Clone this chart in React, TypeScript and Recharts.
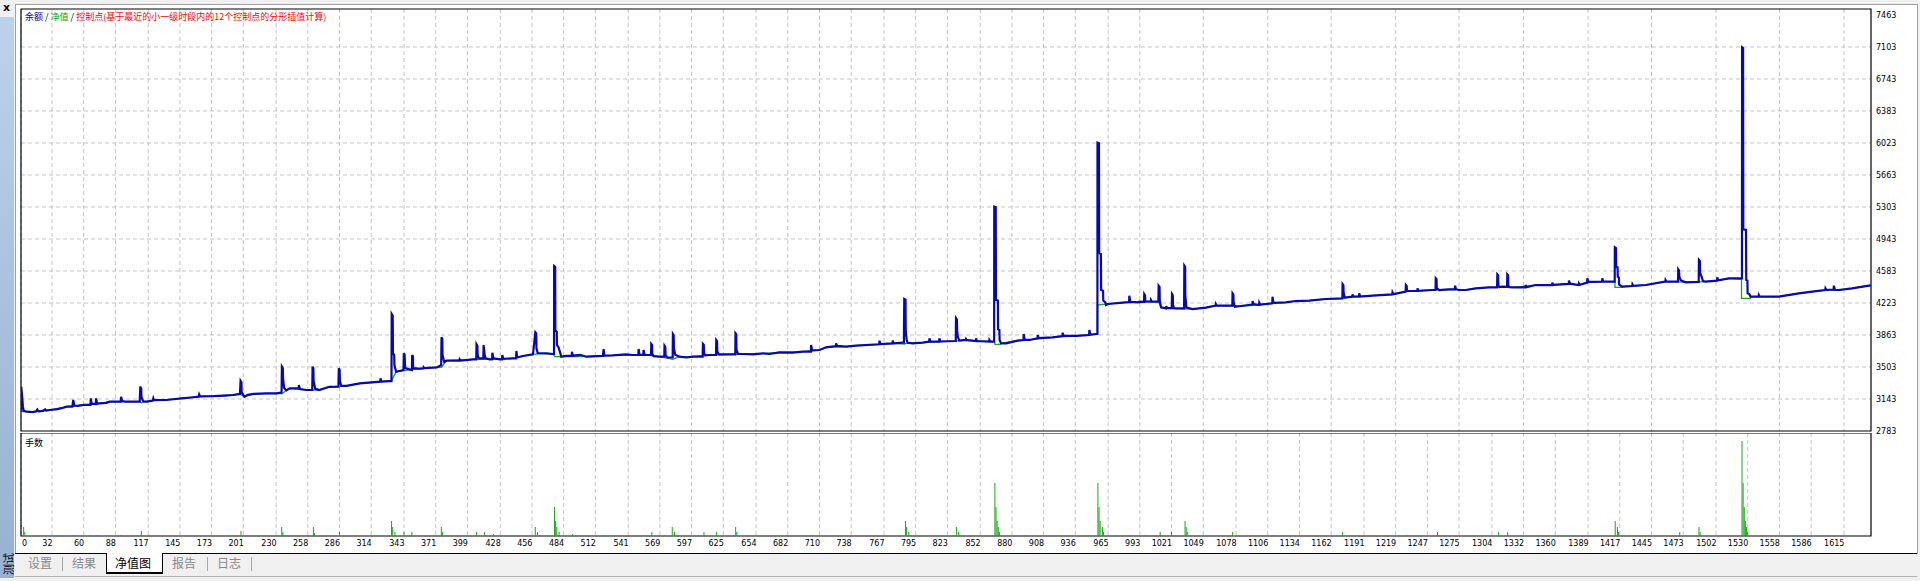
import React from 'react';
import { LineChart, Line, XAxis, YAxis, CartesianGrid, ReferenceArea, ComposedChart, Bar } from 'recharts';

// ---------- data ----------
const xTickLabels = ['0','32','60','88','117','145','173','201','230','258','286','314','343','371','399','428','456','484','512','541','569','597','625','654','682','710','738','767','795','823','852','880','908','936','965','993','1021','1049','1078','1106','1134','1162','1191','1219','1247','1275','1304','1332','1360','1389','1417','1445','1473','1502','1530','1558','1586','1615'];
const yTicks = [2783, 3143, 3503, 3863, 4223, 4583, 4943, 5303, 5663, 6023, 6383, 6743, 7103, 7463];

// balance (blue): [trade #, value]
const balance: number[][] = [
  [4.7,3000],[4.8,3282],[5.6,3180],[6.3,3060],[7,3010],[10,3000],[15,2995],[18,3005],[19,3025],[20,3005],[24,3010],[26,3025],[27,3012],[30,3019],[37,3030],[42,3045],[45,3057],[50,3057],[50.8,3132],[51.6,3070],[55,3065],[60,3076],[66,3076],[66.3,3150],[67,3090],[70.7,3085],[71,3150],[71.8,3090],[74,3094],[80,3100],[83,3113],[92.8,3113],[93,3169],[94,3120],[96.5,3113],[103,3113],[109.5,3113],[110,3282],[110.8,3260],[111,3169],[112,3132],[113,3113],[116,3113],[121,3125],[121.5,3150],[122,3130],[133,3132],[139,3140],[146.5,3150],[155,3160],[161.5,3169],[162,3195],[162.8,3172],[174.5,3175],[185,3182],[192,3188],[198,3200],[198.6,3345],[199.3,3330],[199.5,3220],[202,3169],[205,3190],[210,3200],[221,3207],[230,3207],[234.8,3215],[235.1,3507],[235.9,3490],[236.1,3375],[237,3270],[239,3240],[242,3263],[249.8,3263],[250.1,3300],[251,3255],[257,3244],[261.9,3244],[262.2,3507],[262.9,3490],[263.1,3350],[264.5,3260],[268,3244],[277,3280],[285,3282],[285.4,3488],[286.1,3470],[286.3,3350],[287.5,3290],[292,3290],[304,3319],[322,3338],[322.2,3375],[323,3340],[330,3345],[331.9,3345],[332.1,4099],[333,4080],[333.2,3657],[334.3,3640],[334.5,3525],[336,3450],[342.5,3469],[342.8,3657],[343.5,3640],[344,3490],[349.9,3469],[350.2,3638],[350.9,3620],[351,3490],[356,3485],[360,3488],[360.3,3500],[361,3490],[372,3499],[375.8,3525],[376.1,3837],[376.8,3820],[377,3638],[378.5,3560],[380.5,3574],[392,3574],[392.2,3589],[393,3576],[404,3589],[406.8,3589],[407,3758],[407.8,3740],[408,3640],[409,3600],
  [413,3600],[413.3,3750],[414.2,3640],[415,3600],[418.6,3589],[420.8,3589],[421,3664],[422,3600],[427.5,3589],[429.6,3589],[429.8,3638],[430.6,3595],[439.2,3600],[442,3600],[442.2,3683],[443,3610],[448.1,3627],[456.9,3645],[459,3893],[459.8,3880],[460,3713],[461,3660],[468.7,3657],[474.5,3649],[475.5,3649],[475.6,4639],[476.5,4630],[476.7,3912],[477.9,3900],[478.1,3750],[479.6,3720],[481.9,3619],[486.3,3627],[491.2,3627],[491.3,3675],[492,3630],[498.6,3640],[504,3619],[518.7,3627],[519.3,3705],[520,3630],[527.5,3634],[539.3,3645],[545.2,3638],[550,3638],[550.2,3705],[551,3640],[554.4,3640],[554.6,3694],[555.5,3640],[557,3638],[561.2,3638],[561.4,3762],[562.1,3750],[562.3,3650],[563.5,3625],[568.7,3619],[572.9,3619],[573.1,3743],[573.8,3730],[574,3640],[575.5,3610],[580.3,3610],[580.5,3874],[581.2,3860],[581.4,3720],[582.5,3640],[586.4,3619],[592.3,3610],[598.2,3619],[606.8,3619],[607,3762],[607.8,3750],[608,3660],[609,3635],[612.9,3638],[618.6,3638],[618.8,3807],[619.5,3795],[619.7,3680],[621,3645],[627.6,3645],[635.6,3645],[635.8,3882],[636.5,3870],[636.7,3700],[638,3650],[642.3,3649],[651.1,3645],[660,3657],[665.8,3649],[674.7,3668],[686.4,3664],[695.3,3675],[702.4,3675],[702.6,3750],[703.5,3690],[710,3694],[715.9,3724],[724.5,3739],[724.7,3769],[725.5,3740],[733.5,3732],[742.4,3743],[762.8,3758],[763,3799],[763.8,3760],[774.5,3769],[774.7,3799],[775.5,3770],[783.6,3777],[784.6,3777],[784.7,4024],[784.9,4268],[786,4260],[786.2,3900],[787,3807],[788,3775],[792.4,3769],[801.2,3777],[806.9,3788],[807.1,3825],[808,3790],[815.7,3788],[815.9,3825],[816.8,3790],[830.4,3795],[830.6,4054],[831.4,4040],[831.6,3912],[832.2,3844],[833.5,3800],[839.3,3807],[839.5,3818],[840.3,3805],[848.1,3795],[848.3,3825],[849,3795],
  [859.9,3788],[860.1,3807],[861,3788],[864.3,3788],[864.4,5307],[865.7,5300],[865.9,4257],[867.6,4250],[867.8,3927],[868.9,3920],[869.1,3807],[870.4,3769],[874.8,3769],[885.1,3799],[890.2,3807],[890.4,3874],[891.2,3810],[895.4,3807],[902.6,3825],[902.8,3863],[903.6,3828],[916,3837],[924.6,3852],[924.8,3889],[925.6,3852],[936.6,3852],[948.2,3863],[948.4,3919],[949.2,3865],[954.3,3874],[955.5,3874],[955.6,6027],[956.9,6020],[957.1,4782],[958.6,4775],[958.8,4369],[960.5,4360],[960.7,4250],[962.5,4230],[963.1,4200],[964.6,4212],[980.5,4230],[983.5,4232],[983.7,4305],[984.6,4235],[992.5,4230],[992.7,4238],[996.7,4235],[996.9,4324],[997.6,4310],[997.8,4240],[1002.6,4240],[1002.8,4257],[1003.6,4238],[1009.4,4238],[1009.6,4418],[1010.4,4405],[1010.6,4250],[1011.7,4174],[1016.1,4163],[1016.3,4189],[1017,4165],[1021.2,4165],[1021.4,4324],[1022.1,4310],[1022.3,4200],[1023.2,4165],[1024.9,4163],[1032.1,4163],[1032.3,4643],[1033,4630],[1033.2,4300],[1034.2,4170],[1039.6,4155],[1051.4,4170],[1060,4193],[1060.2,4212],[1061,4193],[1069,4193],[1074.7,4193],[1074.9,4332],[1075.6,4320],[1075.8,4230],[1077,4180],[1082.3,4189],[1092.4,4205],[1092.6,4245],[1093.4,4210],[1098.3,4200],[1098.5,4227],[1099.3,4205],[1110,4219],[1110.2,4294],[1111,4225],[1122,4230],[1130.8,4245],[1142.6,4249],[1157.3,4268],[1171.9,4275],[1172.1,4437],[1172.8,4425],[1173,4340],[1174,4285],[1180.7,4294],[1180.9,4320],[1181.7,4296],[1186.6,4294],[1186.8,4332],[1187.6,4296],[1198.5,4305],[1216,4320],[1216.2,4343],[1217,4322],[1227.8,4350],[1228,4425],[1228.7,4415],[1229,4360],[1238.1,4358],[1238.3,4388],[1239,4360],[1251.5,4369],[1254.2,4369],[1254.4,4500],[1255.1,4490],[1255.3,4390],[1257.4,4369],[1266.2,4377],[1271.3,4377],[1271.5,4418],[1272.3,4378],[1275,4369],
  [1280.9,4369],[1289.7,4388],[1301.5,4399],[1308.6,4399],[1308.8,4545],[1309.5,4535],[1309.7,4420],[1310.8,4402],[1313.2,4407],[1317.4,4405],[1317.6,4545],[1318.3,4535],[1318.5,4420],[1319.5,4400],[1323.5,4399],[1333.6,4399],[1333.8,4425],[1334.6,4400],[1342.7,4425],[1357.2,4425],[1357.4,4452],[1358.2,4428],[1371.9,4437],[1372.1,4474],[1373,4440],[1380.7,4425],[1380.9,4444],[1381.7,4428],[1388.1,4452],[1388.3,4500],[1389.2,4460],[1401.3,4463],[1401.5,4500],[1402.3,4465],[1410.4,4463],[1412.5,4463],[1412.6,4849],[1413.6,4840],[1413.8,4632],[1415,4625],[1415.2,4519],[1416.2,4510],[1416.4,4430],[1419.2,4407],[1428,4414],[1428.2,4433],[1429,4416],[1439.8,4425],[1457.2,4463],[1457.4,4482],[1458.2,4465],[1468.4,4463],[1468.6,4602],[1469.3,4590],[1469.6,4520],[1470.8,4480],[1475.1,4455],[1486.7,4460],[1486.9,4707],[1487.7,4695],[1487.9,4560],[1489,4527],[1490.5,4470],[1492.8,4463],[1503,4474],[1503.1,4512],[1504,4478],[1513.4,4500],[1524.9,4500],[1525,7099],[1525.9,7090],[1526.1,5052],[1528.5,5045],[1528.7,4482],[1529.7,4475],[1529.9,4332],[1531.3,4325],[1532.5,4294],[1539.6,4294],[1539.8,4313],[1540.6,4294],[1545.7,4294],[1557.5,4294],[1575.2,4332],[1586.9,4350],[1598.5,4369],[1598.7,4388],[1599.5,4370],[1605.9,4375],[1606.1,4418],[1607,4372],[1610.5,4369],[1622.2,4388],[1637,4418],[1638.9,4421],
];

// equity (green): [trade #, value]
const equity: number[][] = [
  [4.7,3000],[15,2995],[30,3019],[45,3057],[60,3076],[74,3094],[83,3113],[110,3113],[111,3100],[113,3113],[121,3125],[139,3140],[162,3169],[192,3188],[198,3200],[202,3169],[210,3200],[230,3207],[235,3200],[239,3240],[242,3263],[257,3244],[268,3244],[277,3280],[292,3290],[304,3319],[322,3338],[331.9,3345],[336,3450],[360,3488],[372,3499],[376,3500],[380.5,3574],[404,3589],[418,3589],[439,3600],[448,3627],[457,3645],[469,3657],[474.5,3649],[476,3620],[481.9,3619],[504,3619],[527,3634],[545,3638],[557,3638],[568.7,3619],[580.5,3589],[582.5,3600],[586.4,3619],[598,3619],[613,3638],[642,3649],[660,3657],[675,3668],[695,3675],[710,3694],[716,3724],[733.5,3732],[742,3743],[763,3758],[775,3769],[785,3760],[788,3775],[801,3777],[816,3788],[830,3795],[840,3807],[851,3795],[864.5,3788],[865,3758],[869.5,3758],[870.4,3769],[885,3799],[895,3807],[916,3837],[937,3852],[954,3874],[955.6,3874],[955.7,4200],[964.6,4212],[980.8,4230],[992.5,4230],[1009.6,4238],[1011.7,4174],[1016,4163],[1039.6,4155],[1051,4170],[1060,4193],[1082,4189],[1098,4200],[1110,4219],[1122,4230],[1131,4245],[1143,4249],[1157,4268],[1172,4275],[1181,4294],[1198.5,4305],[1216,4320],[1228,4350],[1251.5,4369],[1266,4377],[1281,4369],[1290,4388],[1301.5,4399],[1323.5,4399],[1342.7,4425],[1357,4425],[1372,4437],[1381,4425],[1388,4452],[1401.5,4463],[1412.7,4463],[1412.7,4399],[1419.2,4399],[1419.2,4407],[1428,4414],[1440,4425],[1457,4463],[1468,4463],[1475,4455],[1493,4463],[1503,4474],[1513.4,4500],[1524.5,4489],[1524.5,4275],[1532.5,4275],[1532.5,4294],[1557.5,4294],[1575,4332],[1587,4350],[1599,4369],[1610.5,4369],[1622,4388],[1637,4418],[1638.9,4421],
];

// lots (green bars): [trade #, lots]
const lots: number[][] = [
  [7,0.09],[8,0.04],[51,0.01],[66,0.01],[72,0.01],[93,0.01],[111,0.05],[112,0.01],[199,0.05],[235,0.09],[236,0.04],[263,0.09],[264,0.03],[286,0.04],[332,0.15],[333,0.09],[335,0.04],[343,0.04],[350,0.04],[376,0.09],[377,0.04],[407,0.04],[414,0.04],[422,0.02],[459,0.09],[461,0.04],[476,0.29],[477,0.15],[478,0.09],[480,0.04],[492,0.02],[519,0.01],[555,0.01],[562,0.04],[573,0.01],[580,0.09],[582,0.04],[608,0.04],[619,0.04],[636,0.09],[637,0.04],[703,0.01],[786,0.15],[787,0.09],[789,0.04],[831,0.09],[833,0.04],[865,0.53],[866,0.29],[867,0.15],[868,0.09],[869,0.04],[891,0.01],[956,0.53],[957,0.29],[958,0.15],[960,0.09],[961,0.04],[984,0.01],[997,0.01],[1011,0.04],[1012,0.01],[1021,0.04],[1023,0.01],[1033,0.15],[1034,0.09],[1035,0.04],[1075,0.04],[1111,0.01],[1172,0.04],[1229,0.01],[1256,0.04],[1310,0.04],[1318,0.04],[1413,0.15],[1415,0.09],[1416,0.04],[1470,0.04],[1487,0.09],[1488,0.04],[1525,0.95],[1526,0.53],[1527,0.29],[1528,0.15],[1529,0.09],[1530,0.04],
];

// ---------- scales / styles ----------
const X_MIN = 4.62;
const X_MAX = 1638.9;
const Y_MIN = 2783;
const Y_MAX = 7530;
const LOT_MAX = 1.03;

const xTickValues = xTickLabels.map((l) => Math.max(Number(l), X_MIN));
const balanceData = balance.map(([x, v]) => ({ x, v }));
const equityData = equity.map(([x, v]) => ({ x, v }));
const lotData = lots.map(([x, v]) => ({ x, v }));

const BLUE = '#0808b0';
const GREEN = '#18a818';
const GRID = '#c4c4c4';
const NUM_FONT = 'DejaVu Sans, Verdana, sans-serif';
const CJK_FONT = '"Noto Sans CJK SC", "Noto Sans", sans-serif';

const YTick = (props: any) => {
  const { x, y, payload } = props;
  return (
    <text x={x} y={y} dy={3} textAnchor="start" fontSize={8} fontFamily={NUM_FONT} fill="#000">
      {payload.value}
    </text>
  );
};

const XTick = (props: any) => {
  const { x, y, payload } = props;
  const idx = xTickValues.indexOf(payload.value);
  const first = idx === 0;
  return (
    <text x={first ? x + 1 : x + 0.5} y={y} dy={10} textAnchor={first ? 'start' : 'end'} fontSize={8} fontFamily={NUM_FONT} fill="#000">
      {xTickLabels[idx]}
    </text>
  );
};

const tabStyle = (left: number, active: boolean): React.CSSProperties => ({
  position: 'absolute',
  left,
  top: 556,
  fontSize: 12,
  lineHeight: '14px',
  fontFamily: CJK_FONT,
  color: active ? '#000' : '#8a8a8a',
  whiteSpace: 'nowrap',
});

const sep = (left: number): React.CSSProperties => ({
  position: 'absolute', left, top: 557, width: 1, height: 14, background: '#a8a8a8',
});

export default function App() {
  return (
    <div style={{ position: 'absolute', left: 0, top: 0, width: 1920, height: 581, background: '#f0f0f0', overflow: 'hidden' }}>
      {/* white panel */}
      <div style={{ position: 'absolute', left: 15, top: 4, width: 1901, height: 549, background: '#fff', borderTop: '1px solid #a0a0a0', borderLeft: '1px solid #a0a0a0', borderRight: '1px solid #a0a0a0' }} />
      {/* left dock bar */}
      <div style={{ position: 'absolute', left: 0, top: 17, width: 14, height: 561, background: 'linear-gradient(#bcd2ea, #98b1d2)' }} />
      <div style={{ position: 'absolute', left: 3, top: 1, fontSize: 11, fontWeight: 'bold', fontFamily: 'DejaVu Sans, sans-serif', color: '#000' }}>x</div>
      <div style={{ position: 'absolute', left: 7.5, top: 564, transform: 'translate(-50%, -50%) rotate(-90deg)', fontSize: 11, fontFamily: CJK_FONT, color: '#000', whiteSpace: 'nowrap', lineHeight: '12px' }}>测试</div>

      {/* main chart */}
      <div style={{ position: 'absolute', left: 0, top: 0 }}>
        <LineChart width={1920} height={446} margin={{ top: 9, right: 0, left: 21, bottom: 15 }}>
          <CartesianGrid
            stroke={GRID}
            strokeDasharray="4 3"
            verticalValues={xTickValues}
            horizontalValues={yTicks.filter((v) => v !== Y_MIN && v !== 7463)}
          />
          <XAxis type="number" dataKey="x" domain={[X_MIN, X_MAX]} allowDataOverflow ticks={xTickValues} hide />
          <YAxis
            type="number"
            orientation="right"
            domain={[Y_MIN, Y_MAX]}
            allowDataOverflow
            ticks={yTicks}
            interval={0}
            width={49}
            axisLine={false}
            tickLine={false}
            tickSize={0}
            tickMargin={5}
            tick={<YTick />}
          />
          <Line data={equityData} dataKey="v" type="linear" stroke={GREEN} strokeWidth={1.3} dot={false} activeDot={false} isAnimationActive={false} />
          <Line data={balanceData} dataKey="v" type="linear" stroke={BLUE} strokeWidth={2.2} dot={false} activeDot={false} isAnimationActive={false} />
          <ReferenceArea x1={X_MIN} x2={X_MAX} y1={Y_MIN} y2={Y_MAX} fill="none" fillOpacity={0} stroke="#000" strokeWidth={1.2} ifOverflow="visible" />
        </LineChart>
      </div>

      {/* lots panel */}
      <div style={{ position: 'absolute', left: 0, top: 433 }}>
        <ComposedChart width={1920} height={117} data={lotData} margin={{ top: 0, right: 49, left: 21, bottom: 0 }}>
          <CartesianGrid stroke={GRID} strokeDasharray="4 3" horizontal={false} verticalValues={xTickValues} />
          <XAxis
            type="number"
            dataKey="x"
            domain={[X_MIN, X_MAX]}
            allowDataOverflow
            ticks={xTickValues}
            interval={0}
            height={14}
            axisLine={false}
            tickLine={false}
            tickSize={0}
            tickMargin={0}
            tick={<XTick />}
          />
          <YAxis type="number" domain={[0, LOT_MAX]} allowDataOverflow hide />
          <Bar dataKey="v" fill={GREEN} barSize={1} isAnimationActive={false} />
          <ReferenceArea x1={X_MIN} x2={X_MAX} y1={0} y2={LOT_MAX} fill="none" fillOpacity={0} stroke="#000" strokeWidth={1.2} ifOverflow="visible" />
        </ComposedChart>
      </div>

      {/* legend texts */}
      <div style={{ position: 'absolute', left: 25, top: 12, fontSize: 9, lineHeight: '10px', fontFamily: CJK_FONT, whiteSpace: 'nowrap' }}>
        <span style={{ color: '#0000c8' }}>余额</span>
        <span style={{ color: '#000' }}> / </span>
        <span style={{ color: '#00a800' }}>净值</span>
        <span style={{ color: '#000' }}> / </span>
        <span style={{ color: '#ff0000' }}>控制点(基于最近的小一级时段内的12个控制点的分形插值计算)</span>
      </div>
      <div style={{ position: 'absolute', left: 25, top: 438, fontSize: 9, lineHeight: '10px', fontFamily: CJK_FONT, color: '#000' }}>手数</div>

      {/* tab strip */}
      <div style={{ position: 'absolute', left: 15, top: 553, width: 1902, height: 1, background: '#000' }} />
      <div style={{ position: 'absolute', left: 15, top: 576, width: 1902, height: 1, background: '#b0b0b0' }} />
      <div style={{ position: 'absolute', left: 106, top: 553, width: 55, height: 19, background: '#fff', borderLeft: '1px solid #000', borderRight: '1px solid #000', borderBottom: '2px solid #000' }} />
      <div style={tabStyle(28, false)}>设置</div>
      <div style={sep(62)} />
      <div style={tabStyle(72, false)}>结果</div>
      <div style={tabStyle(115, true)}>净值图</div>
      <div style={tabStyle(172, false)}>报告</div>
      <div style={sep(207)} />
      <div style={tabStyle(217, false)}>日志</div>
      <div style={sep(251)} />
    </div>
  );
}
